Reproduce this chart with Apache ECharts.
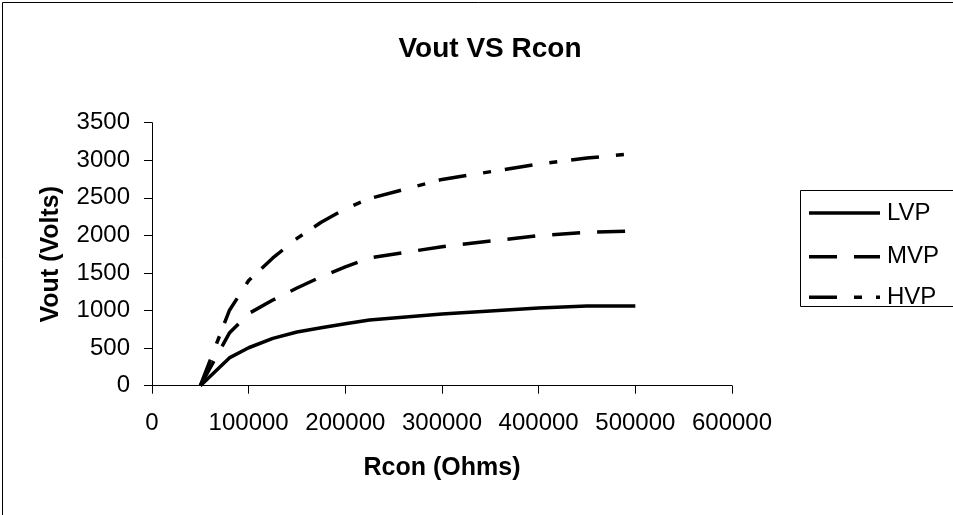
<!DOCTYPE html>
<html>
<head>
<meta charset="utf-8">
<script src="https://cdn.jsdelivr.net/npm/echarts@6/dist/echarts.min.js"></script>
<style>
html,body{margin:0;padding:0;background:#fff;}
#chart{width:953px;height:515px;}
</style>
</head>
<body>
<div id="chart"></div>
<script>
// Data
var rcon = [50000, 80000, 100000, 125000, 150000, 175000, 200000, 225000, 300000, 400000, 450000, 500000];
var lvp  = [0, 370, 505, 630, 715, 770, 825, 875, 955, 1035, 1062, 1060];
var mvp  = [0, 700, 960, 1140, 1300, 1450, 1580, 1700, 1850, 1998, 2040, 2060];
var hvp  = [0, 1000, 1400, 1700, 1960, 2175, 2355, 2490, 2745, 2950, 3030, 3090];
var seriesNames = ['LVP', 'MVP', 'HVP'];
var xTicks = {min: 0, max: 600000, interval: 100000};
var yTicks = {min: 0, max: 3500, interval: 500};

function pairs(xs, ys) { return xs.map(function (x, i) { return [x, ys[i]]; }); }

var FONT = 'Liberation Sans, Arial, sans-serif';
var chart = echarts.init(document.getElementById('chart'), null, {renderer: 'canvas'});
var dashes = [null, [28, 17], [28, 17, 8, 14]];
var values = [lvp, mvp, hvp];

// legend drawn as a framed box with line samples and labels
var legendRows = [213, 256.7, 297.3];
var legendGraphics = [{
  type: 'rect', shape: {x: 800.5, y: 190.5, width: 200, height: 116},
  style: {fill: '#fff', stroke: '#000', lineWidth: 1}, z: 10
}];
seriesNames.forEach(function (n, i) {
  legendGraphics.push({
    type: 'line', shape: {x1: 809, y1: legendRows[i], x2: 880, y2: legendRows[i]},
    style: {stroke: '#000', lineWidth: 3.5, lineDash: dashes[i], lineCap: 'butt'}, z: 11
  });
  legendGraphics.push({
    type: 'text', x: 887, y: legendRows[i],
    style: {text: n, fill: '#000', font: '24px ' + FONT, textVerticalAlign: 'middle', textAlign: 'left'}, z: 11
  });
});

chart.setOption({
  backgroundColor: '#ffffff',
  animation: false,
  title: {
    text: 'Vout VS Rcon',
    left: 485, top: 30,
    textAlign: 'center',
    textStyle: {fontFamily: FONT, fontWeight: 'bold', fontSize: 28, color: '#000'}
  },
  graphic: [{
    type: 'rect', shape: {x: 2.5, y: 2.5, width: 990, height: 540},
    style: {fill: null, stroke: '#000', lineWidth: 1}, z: -1
  }].concat(legendGraphics),
  grid: {left: 152, right: 221, top: 122.7, bottom: 129.3, containLabel: false},
  xAxis: {
    type: 'value', min: xTicks.min, max: xTicks.max, interval: xTicks.interval,
    name: 'Rcon (Ohms)', nameLocation: 'middle', nameGap: 70,
    nameTextStyle: {fontFamily: FONT, fontWeight: 'bold', fontSize: 25, color: '#000'},
    axisLine: {lineStyle: {color: '#000', width: 1}},
    axisTick: {show: true, inside: false, length: 8, lineStyle: {color: '#000'}},
    axisLabel: {fontFamily: FONT, fontSize: 24, color: '#000', margin: 26,
      formatter: function (v) { return String(v); }},
    splitLine: {show: false}
  },
  yAxis: {
    type: 'value', min: yTicks.min, max: yTicks.max, interval: yTicks.interval,
    name: 'Vout (Volts)', nameLocation: 'middle', nameGap: 88, nameRotate: 90,
    nameTextStyle: {fontFamily: FONT, fontWeight: 'bold', fontSize: 25, color: '#000'},
    axisLine: {show: true, lineStyle: {color: '#000', width: 1}},
    axisTick: {show: true, inside: false, length: 8, lineStyle: {color: '#000'}},
    axisLabel: {fontFamily: FONT, fontSize: 24, color: '#000', margin: 22,
      formatter: function (v) { return String(v); }},
    splitLine: {show: false}
  },
  series: seriesNames.map(function (n, i) {
    return {
      name: n, type: 'line',
      data: pairs(rcon, values[i]),
      symbol: 'none', showSymbol: false,
      lineStyle: {color: '#000', width: 3.5, type: dashes[i] || 'solid', cap: 'butt'},
      itemStyle: {color: '#000'}
    };
  })
});
</script>
</body>
</html>
